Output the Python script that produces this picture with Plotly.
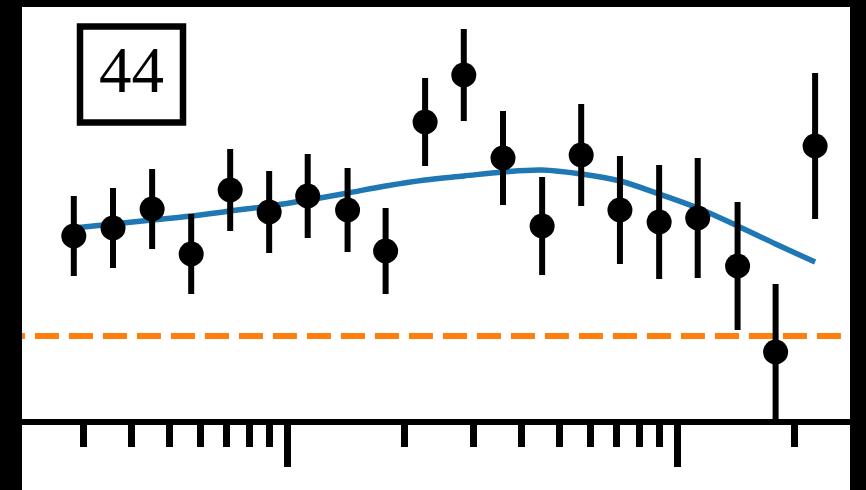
import plotly.graph_objects as go

# Binned measurements (log-spaced bins) with symmetric 1-sigma errors
x_bins = [0.284, 0.358, 0.451, 0.568, 0.715, 0.900, 1.13, 1.43, 1.79, 2.26,
          2.84, 3.58, 4.51, 5.68, 7.14, 9.00, 11.3, 14.3, 17.9, 22.6]
y_meas = [1.50, 1.54, 1.635, 1.41, 1.73, 1.62, 1.70, 1.63, 1.425, 2.07,
          2.305, 1.89, 1.55, 1.905, 1.63, 1.57, 1.59, 1.35, 0.92, 1.95]
y_err = [0.20, 0.20, 0.20, 0.20, 0.205, 0.205, 0.21, 0.21, 0.215, 0.22,
         0.23, 0.235, 0.245, 0.255, 0.27, 0.285, 0.30, 0.32, 0.34, 0.365]

# Best-fit model evaluated at the bin centres
y_model = [1.54, 1.56, 1.58, 1.60, 1.625, 1.65, 1.68, 1.715, 1.75, 1.78,
           1.80, 1.82, 1.83, 1.81, 1.775, 1.71, 1.64, 1.55, 1.46, 1.37]

# Reference level
y_ref = 1.0

panel_label = "44"

# Axis ranges (x in log10 units)
x_range = [-0.6795, 1.4436]
y_range = [0.585, 2.645]

major_ticks = [1, 10]
minor_ticks = [0.3, 0.4, 0.5, 0.6, 0.7, 0.8, 0.9,
               2, 3, 4, 5, 6, 7, 8, 9, 20]

W, H = 866, 490
ML, MR, MT, MB = 22, 16, 7, 71
PW, PH = W - ML - MR, H - MT - MB


def px_x(px):
    return (px - ML) / PW


def px_y(py):
    return (H - MB - py) / PH


fig = go.Figure()

# dashed reference level, extended past the axes so it is clipped at the edges
fig.add_trace(go.Scatter(
    x=[10 ** (x_range[0] - 0.054), 10 ** (x_range[1] + 0.1)],
    y=[y_ref, y_ref],
    mode="lines",
    line=dict(color="#ff7f0e", width=6, dash="24px,10px"),
    hoverinfo="skip",
))

fig.add_trace(go.Scatter(
    x=x_bins, y=y_model,
    mode="lines",
    line=dict(color="#1f77b4", width=5.5, shape="spline", smoothing=1),
    hoverinfo="skip",
))

fig.add_trace(go.Scatter(
    x=x_bins, y=y_meas,
    mode="markers",
    marker=dict(color="black", size=25, line=dict(width=0)),
    error_y=dict(type="data", array=y_err, visible=True,
                 color="black", thickness=6, width=0),
))

# white panel on the black page
fig.add_shape(type="rect", xref="paper", yref="paper",
              x0=0, x1=1, y0=px_y(H + 5), y1=1,
              fillcolor="white", line=dict(width=0), layer="below")

# framed panel label
fig.add_shape(type="rect", xref="paper", yref="paper",
              x0=px_x(80), x1=px_x(183), y0=px_y(122.5), y1=px_y(26.5),
              line=dict(color="black", width=6.5), fillcolor="rgba(0,0,0,0)")
fig.add_annotation(
    text=panel_label, xref="paper", yref="paper",
    x=px_x(131.7), y=px_y(70), xanchor="center", yanchor="middle",
    showarrow=False,
    font=dict(family="Liberation Serif", size=65, color="black"),
)

fig.update_xaxes(
    type="log", range=x_range,
    showgrid=False, zeroline=False,
    showline=True, linecolor="black", linewidth=6,
    ticks="outside", tickvals=major_ticks, ticklen=42, tickwidth=6.5,
    tickcolor="black", showticklabels=False,
    minor=dict(tickvals=minor_ticks, ticks="outside", ticklen=22,
               tickwidth=6.5, tickcolor="black", showgrid=False),
)
fig.update_yaxes(
    range=y_range, showgrid=False, zeroline=False, showline=False,
    showticklabels=False, ticks="",
)

fig.update_layout(
    width=W, height=H,
    margin=dict(l=ML, r=MR, t=MT, b=MB, pad=0),
    paper_bgcolor="black", plot_bgcolor="white",
    showlegend=False,
)

fig.write_html("out.html")
